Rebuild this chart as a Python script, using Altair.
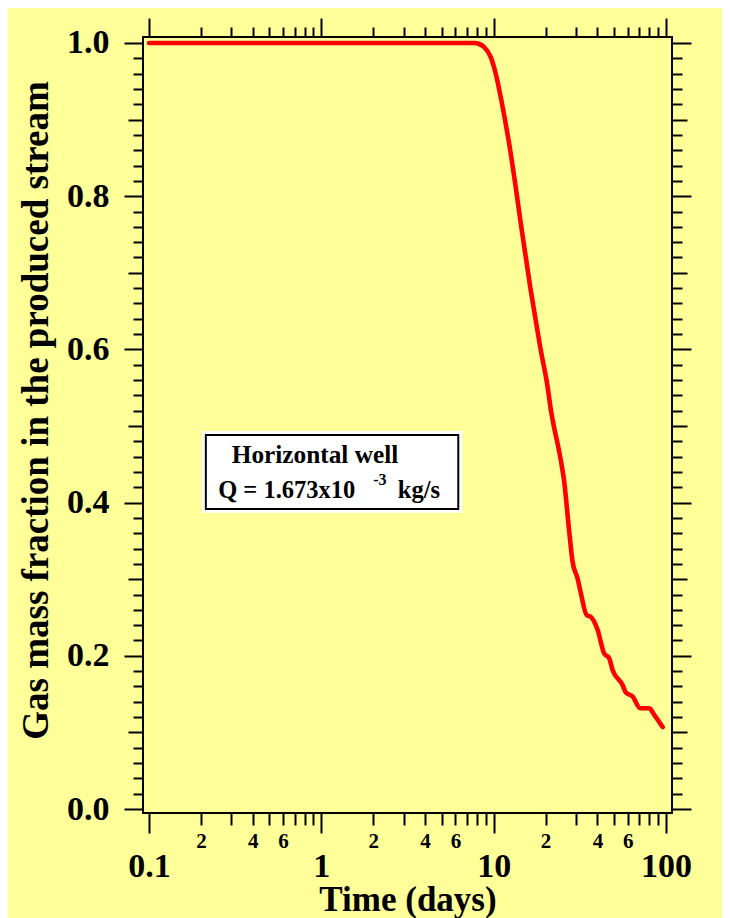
import altair as alt
import pandas as pd

# ---------------- data ----------------
time_days = [0.1, 0.5, 1.0, 5.0, 7.8, 8.18, 8.78, 9.61, 10.27, 10.98, 11.74, 12.56,
             13.43, 14.36, 15.35, 16.41, 17.55, 18.77, 20.5, 21.45, 24.5, 25.6,
             27.4, 28.7, 30.7, 32.05, 34.7, 36.6, 40.1, 43.8, 46.8, 49.0, 56.0,
             58.5, 64.0, 70.9, 80.0, 85.5, 95.7]
gas_fraction = [1.0, 1.0, 1.0, 1.0, 1.0, 0.999, 0.995, 0.982, 0.9605, 0.930, 0.895,
                0.856, 0.812, 0.765, 0.721, 0.6775, 0.638, 0.599, 0.553, 0.522,
                0.456, 0.4295, 0.364, 0.323, 0.301, 0.282, 0.253, 0.251, 0.234,
                0.203, 0.197, 0.1815, 0.162, 0.152, 0.147, 0.1315, 0.1315, 0.123,
                0.107]

x_major = [0.1, 1, 10, 100]
x_minor = [0.2, 0.3, 0.4, 0.5, 0.6, 0.7, 0.8, 0.9,
           2, 3, 4, 5, 6, 7, 8, 9,
           20, 30, 40, 50, 60, 70, 80, 90]
x_minor_labelled = [0.2, 0.4, 0.6, 2, 4, 6, 20, 40, 60]
x_minor_label_text = ["2", "4", "6", "2", "4", "6", "2", "4", "6"]
y_major = [0.0, 0.2, 0.4, 0.6, 0.8, 1.0]
y_medium = [0.1, 0.3, 0.5, 0.7, 0.9]
y_minor = [0.02, 0.04, 0.06, 0.08, 0.12, 0.14, 0.16, 0.18,
           0.22, 0.24, 0.26, 0.28, 0.32, 0.34, 0.36, 0.38,
           0.42, 0.44, 0.46, 0.48, 0.52, 0.54, 0.56, 0.58,
           0.62, 0.64, 0.66, 0.68, 0.72, 0.74, 0.76, 0.78,
           0.82, 0.84, 0.86, 0.88, 0.92, 0.94, 0.96, 0.98]

x_domain = [0.09228, 108.4]
y_domain = [-0.00522, 1.00783]

box_x = [0.2052, 0.2137]
box_x2 = [6.490, 6.234]
box_y = [0.4922, 0.4883]
box_y2 = [0.3881, 0.3916]
box_stroke = ["#FFFFFF", "#000000"]

ann_text = ["Horizontal well", "Q = 1.673x10", "-3", "kg/s"]
ann_x = [0.302, 0.252, 1.998, 2.777]
ann_y = [0.4517, 0.406, 0.423, 0.406]
ann_size = [25.3, 24.5, 16, 24.5]

FONT = "Liberation Serif"
BG = "#FFFF99"

df = pd.DataFrame({"t": time_days, "g": gas_fraction})
box_df = pd.DataFrame({"x": box_x, "x2": box_x2, "y": box_y, "y2": box_y2,
                       "s": box_stroke})
ann_df = pd.DataFrame({"x": ann_x, "y": ann_y, "text": ann_text, "size": ann_size})

xs = alt.Scale(type="log", domain=x_domain, nice=False, zero=False)
ys = alt.Scale(domain=y_domain, nice=False, zero=False)

minor_expr = " : ".join(
    f"datum.value == {v} ? '{t}'" for v, t in zip(x_minor_labelled, x_minor_label_text)
) + " : ''"


def ax(orient, values, size, **kw):
    opts = dict(orient=orient, values=values, tickSize=size, tickWidth=2,
                tickColor="black", domain=False, grid=False, labels=False,
                title=None)
    opts.update(kw)
    return alt.Axis(**opts)


label_style = dict(labels=True, labelFont=FONT, labelFontWeight="bold",
                   labelColor="black", labelFlush=False, labelOverlap=False)

x_bottom_major = ax("bottom", x_major, 20, labelFontSize=34, labelPadding=16,
                    labelExpr="format(datum.value, '~g')",
                    title="Time (days)", titleFont=FONT, titleFontSize=35,
                    titleFontWeight="bold", titleColor="black",
                    titleBaseline="alphabetic", titleY=97, **label_style)
x_bottom_minor = ax("bottom", x_minor, 12, labelFontSize=21, labelPadding=5,
                    labelExpr=minor_expr, **label_style)
x_top_major = ax("top", x_major, 19)
x_top_minor = ax("top", x_minor, 10)

y_left_major = ax("left", y_major, 19, labelFontSize=34, labelPadding=15,
                  format=".1f",
                  title="Gas mass fraction in the produced stream",
                  titleFont=FONT, titleFontSize=37, titleFontWeight="bold",
                  titleColor="black", titleAngle=270, titleBaseline="alphabetic",
                  titleAlign="center", titleX=-96, titleY=373, **label_style)
y_left_medium = ax("left", y_medium, 15)
y_left_minor = ax("left", y_minor, 10)
y_right_major = ax("right", y_major, 19)
y_right_medium = ax("right", y_medium, 15)
y_right_minor = ax("right", y_minor, 10)

base = alt.Chart(df)

line = base.mark_line(color="#FF0000", strokeWidth=4.6, strokeCap="round",
                      strokeJoin="round", interpolate="monotone").encode(
    x=alt.X("t:Q", scale=xs, axis=x_bottom_major),
    y=alt.Y("g:Q", scale=ys, axis=y_left_major),
)


def ghost(xaxis, yaxis):
    return base.mark_line(opacity=0).encode(
        x=alt.X("t:Q", scale=xs, axis=xaxis),
        y=alt.Y("g:Q", scale=ys, axis=yaxis),
    )


g2 = ghost(x_bottom_minor, y_left_medium)
g3 = ghost(x_top_major, y_left_minor)
g4 = ghost(x_top_minor, y_right_major)
g5 = ghost(None, y_right_medium)
g6 = ghost(None, y_right_minor)

boxes = alt.Chart(box_df).mark_rect(fill="white", strokeWidth=2).encode(
    x=alt.X("x:Q", scale=xs, axis=None),
    x2="x2:Q",
    y=alt.Y("y:Q", scale=ys, axis=None),
    y2="y2:Q",
    stroke=alt.Stroke("s:N", scale=None),
)

texts = alt.Chart(ann_df).mark_text(align="left", baseline="alphabetic",
                                    font=FONT, fontWeight="bold",
                                    color="black").encode(
    x=alt.X("x:Q", scale=xs, axis=None),
    y=alt.Y("y:Q", scale=ys, axis=None),
    text="text:N",
    size=alt.Size("size:Q", scale=None),
)

chart = alt.layer(line, g2, g3, g4, g5, g6, boxes, texts).resolve_axis(
    x="independent", y="independent"
).properties(
    width=529,
    height=776,
    background=BG,
    padding={"left": 135, "top": 29, "right": 50, "bottom": 105},
    autosize=alt.AutoSizeParams(type="none"),
).configure_view(stroke="black", strokeWidth=2)

chart.save("out.html", embed_options={"renderer": "svg", "actions": False})
